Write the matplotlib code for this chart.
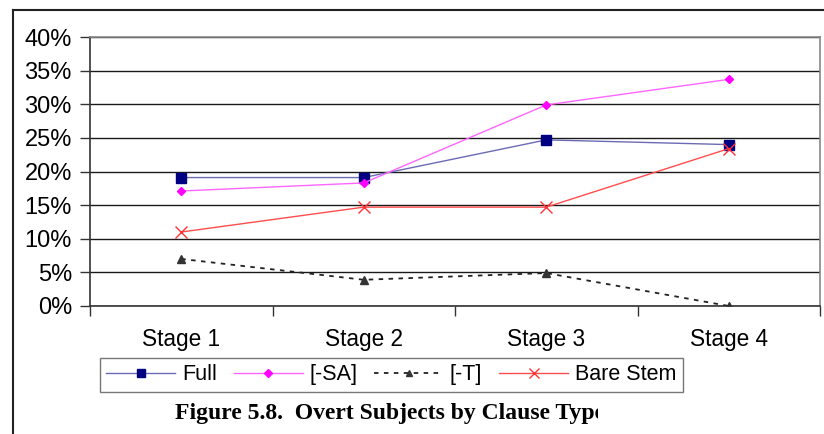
import matplotlib
matplotlib.use("Agg")
import matplotlib.pyplot as plt
from matplotlib.lines import Line2D
from matplotlib.transforms import Bbox, TransformedBbox

stages = ["Stage 1", "Stage 2", "Stage 3", "Stage 4"]
full = [19.1, 19.1, 24.7, 24.0]
minus_sa = [17.1, 18.3, 29.9, 33.7]
minus_t = [7.0, 3.9, 4.9, 0.0]
bare_stem = [11.0, 14.7, 14.7, 23.4]
y_ticks = [0, 5, 10, 15, 20, 25, 30, 35, 40]

W, H = 824, 434
fig = plt.figure(figsize=(W / 100, H / 100), dpi=100)
fig.patch.set_facecolor("white")

# outer frame (left and top edges)
fig.add_artist(Line2D([13 / W, 13 / W], [0, 1 - 10 / H], color="#222222", lw=1.5,
                      transform=fig.transFigure))
fig.add_artist(Line2D([13 / W, 1], [1 - 10 / H, 1 - 10 / H], color="#222222", lw=1.5,
                      transform=fig.transFigure))

left, right, top, bottom = 90, 820, 37, 306
ax = fig.add_axes([left / W, 1 - bottom / H, (right - left) / W, (bottom - top) / H])
x = list(range(len(stages)))
ax.set_xlim(-0.5, len(stages) - 0.5)
ax.set_ylim(0, 40)

for yv in y_ticks:
    ax.axhline(yv, color="#1a1a1a", lw=1.0, zorder=1)

ax.plot(x, full, color="#6b6bb5", lw=1.0, marker="s", ms=6.5,
        mfc="#000080", mec="#000080", zorder=3, label="Full")
ax.plot(x, minus_sa, color="#ff66ff", lw=1.0, marker="D", ms=4.5,
        mfc="#ff00ff", mec="#ff00ff", zorder=3, label="[-SA]")
ax.plot(x, minus_t, color="#222222", lw=1.3, ls=(0, (2.5, 3)), marker="^", ms=6,
        mfc="#333333", mec="#333333", zorder=3, label="[-T]")
ax.plot(x, bare_stem, color="#ff4d4d", lw=1.0, marker="x", ms=9, mew=1.0,
        mfc="#ff3333", mec="#ff3333", zorder=3, label="Bare Stem")

for s in ["top", "right"]:
    ax.spines[s].set_color("#888888")
    ax.spines[s].set_linewidth(1.2)
for s in ["left", "bottom"]:
    ax.spines[s].set_color("#333333")
    ax.spines[s].set_linewidth(1.2)

ax.set_yticks(y_ticks)
ax.set_yticklabels([f"{v}%" for v in y_ticks], fontsize=17, family="Liberation Sans")
ax.tick_params(axis="y", length=7, width=1.0, color="#333333", pad=6)

ax.set_xticks([i + 0.5 for i in range(-1, len(stages))], minor=False)
ax.set_xticklabels([])
ax.tick_params(axis="x", which="major", direction="out", length=7, width=1.0,
               color="#333333")
ax.set_xticks(x, minor=True)
ax.set_xticklabels(stages, minor=True, fontsize=16.3, family="Liberation Sans")
ax.tick_params(axis="x", which="minor", length=0, pad=16)

handles, labels = ax.get_legend_handles_labels()
leg = fig.legend(handles, labels, loc="upper left", ncol=4,
                 bbox_to_anchor=(100 / W, 1 - 358 / H),
                 prop={"family": "Liberation Sans", "size": 15.5},
                 frameon=True, fancybox=False, edgecolor="#555555",
                 handlelength=3.2, handletextpad=0.3, columnspacing=0.8,
                 borderpad=0.3, borderaxespad=0, markerscale=0.8)
leg.get_frame().set_linewidth(1.0)

cap = fig.text(175 / W, 1 - 413 / H, "Figure 5.8.  Overt Subjects by Clause Type",
               ha="left", va="center", fontsize=17, fontweight="bold",
               family="Liberation Serif")
cap.set_clip_box(TransformedBbox(Bbox([[0, 0], [598 / W, 1]]), fig.transFigure))
cap.set_clip_on(True)

fig.savefig("out.png", dpi=100, facecolor="white")
